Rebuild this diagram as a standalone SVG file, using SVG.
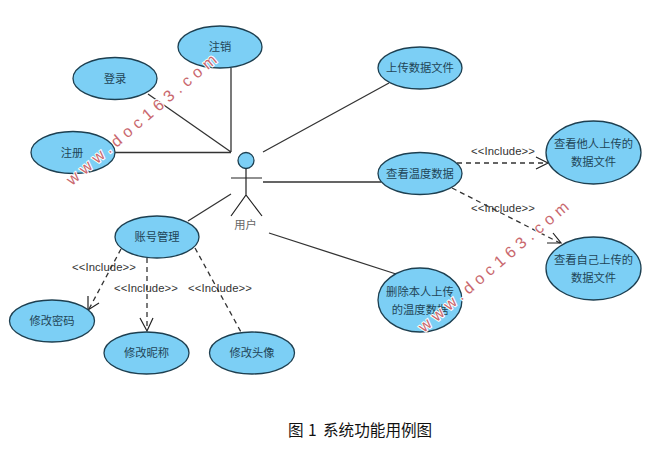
<svg xmlns="http://www.w3.org/2000/svg" width="659" height="458" viewBox="0 0 659 458">
<style>
.uc{fill:#7ccff5;stroke:#1d3f50;stroke-width:1.3}
.t{font-family:"Noto Sans CJK SC","Liberation Sans",sans-serif;font-size:11.3px;fill:#1f4557;text-anchor:middle}
.a{fill:none;stroke:#333;stroke-width:1.3}
.d{fill:none;stroke:#333;stroke-width:1.3;stroke-dasharray:5 4}
.h{fill:none;stroke:#222;stroke-width:1.2}
.l{font-family:"Liberation Sans",Arial,sans-serif;font-size:11.3px;letter-spacing:.1px;fill:#333;text-anchor:middle}
.w{font-family:"Liberation Sans",Arial,sans-serif;font-size:16px;fill:#c9686e;stroke:#fff;stroke-width:2;paint-order:stroke;letter-spacing:5.1px}
.c{font-family:"Noto Sans CJK SC",sans-serif;font-size:15.6px;fill:#111}
</style>
<rect width="659" height="458" fill="#fff"/>
<g id="connectors">
<path class="a" d="M231 68V152M148 94L231 152M115 152.500H231M263 152L389 83M263 182H381M188 221L231 194M269 233L396 274"/>
<path class="d" d="M457 163H547M452 188L560 243M121 249L89 309M147 258V330M195 248L241 332"/>
<path class="h" d="M536 157L548 163L536 169M553 233L561 243L547 243M88 296L88 310L99 303M140 318L147 331L153 318"/>
</g>
<g id="n-zhuxiao"><ellipse class="uc" cx="220" cy="47" rx="42" ry="21"/><text class="t" x="220" y="51">注销</text></g>
<g id="n-denglu"><ellipse class="uc" cx="115" cy="78.500" rx="42" ry="21"/><text class="t" x="115" y="83">登录</text></g>
<g id="n-zhuce"><ellipse class="uc" cx="73" cy="152.500" rx="42" ry="21"/><text class="t" x="72" y="157">注册</text></g>
<g id="n-zhanghao"><ellipse class="uc" cx="157" cy="237" rx="42" ry="21"/><text class="t" x="157" y="241">账号管理</text></g>
<g id="n-mima"><ellipse class="uc" cx="52" cy="321" rx="42.500" ry="21"/><text class="t" x="52" y="325">修改密码</text></g>
<g id="n-nicheng"><ellipse class="uc" cx="146.500" cy="353" rx="42.500" ry="21"/><text class="t" x="146.500" y="357">修改昵称</text></g>
<g id="n-touxiang"><ellipse class="uc" cx="252" cy="353" rx="42.500" ry="21"/><text class="t" x="252" y="357">修改头像</text></g>
<g id="n-shangchuan"><ellipse class="uc" cx="420" cy="68" rx="42" ry="21"/><text class="t" x="420" y="72">上传数据文件</text></g>
<g id="n-chakan"><ellipse class="uc" cx="420" cy="173.500" rx="42" ry="21"/><text class="t" x="420" y="178">查看温度数据</text></g>
<g id="n-taren"><ellipse class="uc" cx="593.500" cy="152.500" rx="47.500" ry="31.500"/><text class="t" x="593.500" y="148">查看他人上传的</text><text class="t" x="593.500" y="166">数据文件</text></g>
<g id="n-ziji"><ellipse class="uc" cx="593.500" cy="268.500" rx="47.500" ry="31.500"/><text class="t" x="593.500" y="264">查看自己上传的</text><text class="t" x="593.500" y="282">数据文件</text></g>
<g id="n-shanchu"><ellipse class="uc" cx="420" cy="300" rx="42" ry="32"/><text class="t" x="420" y="296">删除本人上传</text><text class="t" x="420" y="314">的温度数据</text></g>
<g id="n-actor">
<circle class="uc" cx="246" cy="160.500" r="8"/>
<path class="h" d="M246 168.500V195M231 178H262M231 216L246 195L262 216"/>
<text class="t" x="245.500" y="229" style="fill:#666">用户</text>
</g>
<g id="labels">
<text class="l" x="104" y="271">&lt;&lt;Include&gt;&gt;</text>
<text class="l" x="146" y="292">&lt;&lt;Include&gt;&gt;</text>
<text class="l" x="220" y="292">&lt;&lt;Include&gt;&gt;</text>
<text class="l" x="503" y="155">&lt;&lt;Include&gt;&gt;</text>
<text class="l" x="503" y="212">&lt;&lt;Include&gt;&gt;</text>
</g>
<text class="w" transform="translate(72 186) rotate(-40.500)">www.doc163.com</text>
<text class="w" transform="translate(424 333) rotate(-40.500)">www.doc163.com</text>
<text class="c" y="436"><tspan x="288">图</tspan><tspan x="308">1</tspan><tspan x="323">系统功能用例图</tspan></text>
</svg>
